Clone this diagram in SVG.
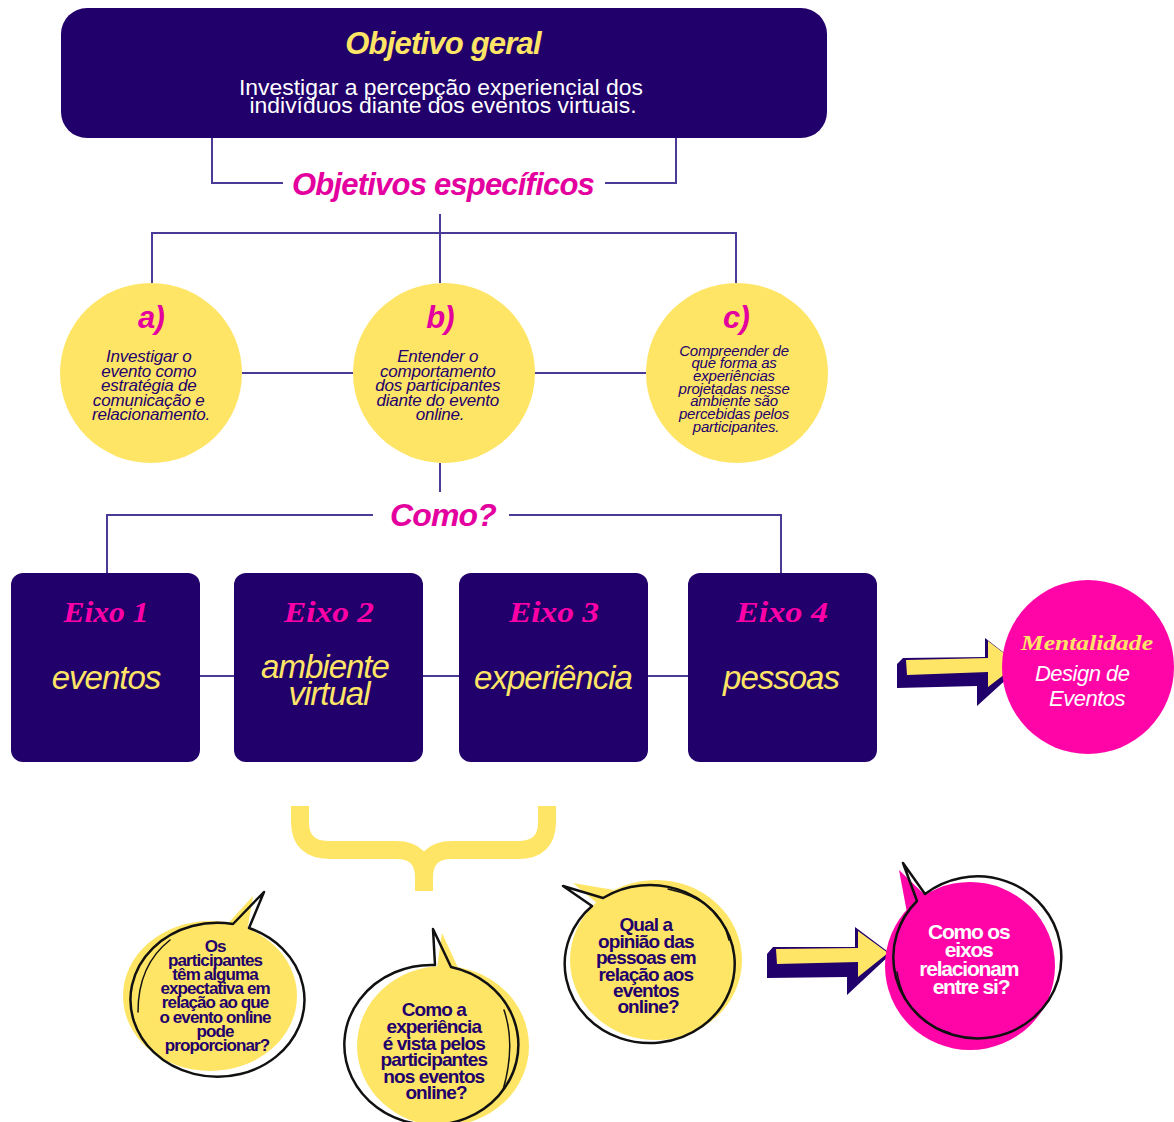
<svg xmlns="http://www.w3.org/2000/svg" width="1174" height="1122" viewBox="0 0 1174 1122">
<style>
.dk{fill:#22006b}
.yl{fill:#ffe566}
.ln{fill:none;stroke:#4b3b97;stroke-width:2}
.sans{font-family:"Liberation Sans",Arial,sans-serif}
.ser{font-family:"Liberation Serif","DejaVu Serif",serif;font-weight:bold;font-style:italic}
.hd{font-family:"Liberation Sans",Arial,sans-serif;font-weight:bold;font-style:italic;letter-spacing:-0.8px}
.ctxt{font-family:"Liberation Sans",Arial,sans-serif;font-style:italic;fill:#22006b;text-anchor:middle;letter-spacing:-0.2px}
.ax{font-family:"Liberation Sans",Arial,sans-serif;font-style:italic;fill:#ffe566;font-size:33px;letter-spacing:-1px;text-anchor:middle}
.bq{font-family:"Liberation Sans",Arial,sans-serif;font-weight:bold;fill:#22006b;text-anchor:middle;letter-spacing:-0.9px}
.ol{fill:none;stroke:#111;stroke-width:2.5;stroke-linejoin:round}
.sk{fill:none;stroke:#111;stroke-width:1.5;stroke-linecap:round}
</style>

<g id="connectors">
  <polyline class="ln" points="212,138 212,183 283,183"/>
  <polyline class="ln" points="605,183 676,183 676,138"/>
  <line class="ln" x1="440" y1="214" x2="440" y2="283"/>
  <polyline class="ln" points="152,283 152,233 736,233 736,283"/>
  <line class="ln" x1="242" y1="373" x2="353" y2="373"/>
  <line class="ln" x1="534" y1="373" x2="646" y2="373"/>
  <line class="ln" x1="440" y1="463" x2="440" y2="492"/>
  <polyline class="ln" points="373,515 107,515 107,573"/>
  <polyline class="ln" points="509,515 781,515 781,573"/>
  <line class="ln" x1="200" y1="676" x2="234" y2="676"/>
  <line class="ln" x1="423" y1="676" x2="459" y2="676"/>
  <line class="ln" x1="648" y1="676" x2="688" y2="676"/>
</g>

<g id="objetivo-geral">
  <rect x="61" y="8" width="766" height="130" rx="26" class="dk"/>
  <text x="443" y="54" class="hd" font-size="31" fill="#ffe566" text-anchor="middle">Objetivo geral</text>
  <text class="sans" font-size="22" fill="#ffffff" text-anchor="middle">
    <tspan x="444" y="95" textLength="404" lengthAdjust="spacingAndGlyphs">Investigar a percepção experiencial dos</tspan>
    <tspan x="443" y="113" textLength="387" lengthAdjust="spacingAndGlyphs">indivíduos diante dos eventos virtuais.</tspan>
  </text>
</g>

<g id="objetivos-especificos">
  <text x="443" y="195" class="hd" font-size="31" fill="#e4009e" text-anchor="middle">Objetivos específicos</text>
</g>

<g id="obj-a">
  <ellipse cx="151" cy="373" rx="91" ry="90" class="yl"/>
  <text x="151" y="328" class="hd" font-size="31" fill="#e4009e" text-anchor="middle">a)</text>
  <text class="ctxt" font-size="17">
    <tspan x="151" y="362">Investigar o</tspan>
    <tspan x="151" y="377">evento como</tspan>
    <tspan x="151" y="391">estratégia de</tspan>
    <tspan x="151" y="406">comunicação e</tspan>
    <tspan x="151" y="420">relacionamento.</tspan>
  </text>
</g>

<g id="obj-b">
  <ellipse cx="444" cy="373" rx="91" ry="90" class="yl"/>
  <text x="440" y="328" class="hd" font-size="31" fill="#e4009e" text-anchor="middle">b)</text>
  <text class="ctxt" font-size="17">
    <tspan x="440" y="362">Entender o</tspan>
    <tspan x="440" y="377">comportamento</tspan>
    <tspan x="440" y="391">dos participantes</tspan>
    <tspan x="440" y="406">diante do evento</tspan>
    <tspan x="440" y="420">online.</tspan>
  </text>
</g>

<g id="obj-c">
  <ellipse cx="737" cy="373" rx="91" ry="90" class="yl"/>
  <text x="736" y="328" class="hd" font-size="31" fill="#e4009e" text-anchor="middle">c)</text>
  <text class="ctxt" font-size="15">
    <tspan x="736" y="356">Compreender de</tspan>
    <tspan x="736" y="368">que forma as</tspan>
    <tspan x="736" y="381">experiências</tspan>
    <tspan x="736" y="394">projetadas nesse</tspan>
    <tspan x="736" y="406">ambiente são</tspan>
    <tspan x="736" y="419">percebidas pelos</tspan>
    <tspan x="736" y="432">participantes.</tspan>
  </text>
</g>

<g id="como">
  <text x="443" y="526" class="hd" font-size="32" fill="#e4009e" text-anchor="middle">Como?</text>
</g>

<g id="eixo1">
  <rect x="11" y="573" width="189" height="189" rx="12" class="dk"/>
  <text x="106" y="622" class="ser" font-size="29" fill="#ff00a8" text-anchor="middle" textLength="85" lengthAdjust="spacingAndGlyphs">Eixo 1</text>
  <text x="106" y="689" class="ax">eventos</text>
</g>
<g id="eixo2">
  <rect x="234" y="573" width="189" height="189" rx="12" class="dk"/>
  <text x="329" y="622" class="ser" font-size="29" fill="#ff00a8" text-anchor="middle" textLength="90" lengthAdjust="spacingAndGlyphs">Eixo 2</text>
  <text x="325" y="678" class="ax">ambiente</text>
  <text x="329" y="705" class="ax">virtual</text>
</g>
<g id="eixo3">
  <rect x="459" y="573" width="189" height="189" rx="12" class="dk"/>
  <text x="554" y="622" class="ser" font-size="29" fill="#ff00a8" text-anchor="middle" textLength="90" lengthAdjust="spacingAndGlyphs">Eixo 3</text>
  <text x="553" y="689" class="ax">experiência</text>
</g>
<g id="eixo4">
  <rect x="688" y="573" width="189" height="189" rx="12" class="dk"/>
  <text x="782" y="622" class="ser" font-size="29" fill="#ff00a8" text-anchor="middle" textLength="92" lengthAdjust="spacingAndGlyphs">Eixo 4</text>
  <text x="781" y="689" class="ax">pessoas</text>
</g>

<g id="arrow1">
  <polygon points="903,658 897,664 897,688 977,686 977,706 1021,666 985,638 985,657" class="dk"/>
  <polygon points="906,660 988,658 988,641 1018,664 988,687 988,672 907,675" class="yl"/>
</g>

<g id="mentalidade">
  <ellipse cx="1088" cy="667" rx="86" ry="87" fill="#ff05a8"/>
  <text x="1087" y="650" class="ser" font-size="20" fill="#ffe566" text-anchor="middle" textLength="132" lengthAdjust="spacingAndGlyphs">Mentalidade</text>
  <text class="sans" font-style="italic" font-size="22" fill="#ffffff" text-anchor="middle" letter-spacing="-0.5">
    <tspan x="1085" y="681">Design de</tspan>
    <tspan x="1087" y="706">Eventos</tspan>
  </text>
</g>

<g id="brace">
  <path d="M300,806 V822 Q300,850 330,850 H396 Q424,850 424,878 V891 M424,891 V878 Q424,850 452,850 H518 Q547,850 547,822 V806" fill="none" stroke="#ffe566" stroke-width="18"/>
</g>

<g id="bubble1">
  <ellipse cx="210" cy="996" rx="87" ry="75" class="yl"/>
  <polygon points="222,930 253,896 247,932" class="yl"/>
  <path class="ol" d="M249,928 A87,77 0 1 1 233,924 L264,892 Z"/>
  <path class="sk" d="M170,940 Q138,965 138,1012"/>
  <text class="bq" font-size="17">
    <tspan x="217" y="952">Os</tspan>
    <tspan x="217" y="966">participantes</tspan>
    <tspan x="217" y="980">têm alguma</tspan>
    <tspan x="217" y="994">expectativa em</tspan>
    <tspan x="217" y="1008">relação ao que</tspan>
    <tspan x="217" y="1023">o evento online</tspan>
    <tspan x="217" y="1037">pode</tspan>
    <tspan x="217" y="1051">proporcionar?</tspan>
  </text>
</g>

<g id="bubble2">
  <ellipse cx="443" cy="1046" rx="86" ry="80" class="yl"/>
  <polygon points="437,968 442,933 460,972" class="yl"/>
  <path class="ol" d="M451,967 A87,80 0 1 1 435,965 L433,929 Z"/>
  <path class="sk" d="M504,1010 Q516,1045 503,1090"/>
  <text class="bq" font-size="19">
    <tspan x="436" y="1016">Como a</tspan>
    <tspan x="436" y="1033">experiência</tspan>
    <tspan x="436" y="1050">é vista pelos</tspan>
    <tspan x="436" y="1066">participantes</tspan>
    <tspan x="436" y="1083">nos eventos</tspan>
    <tspan x="436" y="1099">online?</tspan>
  </text>
</g>

<g id="bubble3">
  <ellipse cx="656" cy="960" rx="86" ry="80" class="yl"/>
  <polygon points="573,883 614,890 598,904" class="yl"/>
  <path class="ol" d="M603,898 A85,79 0 1 1 592,906 L563,886 Z"/>
  <path class="sk" d="M668,889 Q720,900 729,940"/>
  <text class="bq" font-size="19">
    <tspan x="648" y="931">Qual a</tspan>
    <tspan x="648" y="948">opinião das</tspan>
    <tspan x="648" y="964">pessoas em</tspan>
    <tspan x="648" y="981">relação aos</tspan>
    <tspan x="648" y="997">eventos</tspan>
    <tspan x="648" y="1013">online?</tspan>
  </text>
</g>

<g id="arrow2">
  <polygon points="773,947 767,954 767,978 847,977 847,995 891,954 855,927 855,947" class="dk"/>
  <polygon points="776,949 858,948 858,931 888,953 858,977 858,962 777,964" class="yl"/>
</g>

<g id="bubble4">
  <ellipse cx="970" cy="966" rx="85" ry="84" fill="#ff05a8"/>
  <polygon points="899,870 925,895 908,918" fill="#ff05a8"/>
  <path class="ol" d="M925,894 A84,81 0 1 1 917,901 L903,863 Z"/>
  <path class="sk" d="M897,972 Q905,1020 950,1033"/>
  <text class="sans" font-weight="bold" font-size="21" fill="#ffffff" text-anchor="middle" letter-spacing="-1.2">
    <tspan x="971" y="939">Como os</tspan>
    <tspan x="971" y="957">eixos</tspan>
    <tspan x="971" y="976">relacionam</tspan>
    <tspan x="971" y="994">entre si?</tspan>
  </text>
</g>
</svg>
